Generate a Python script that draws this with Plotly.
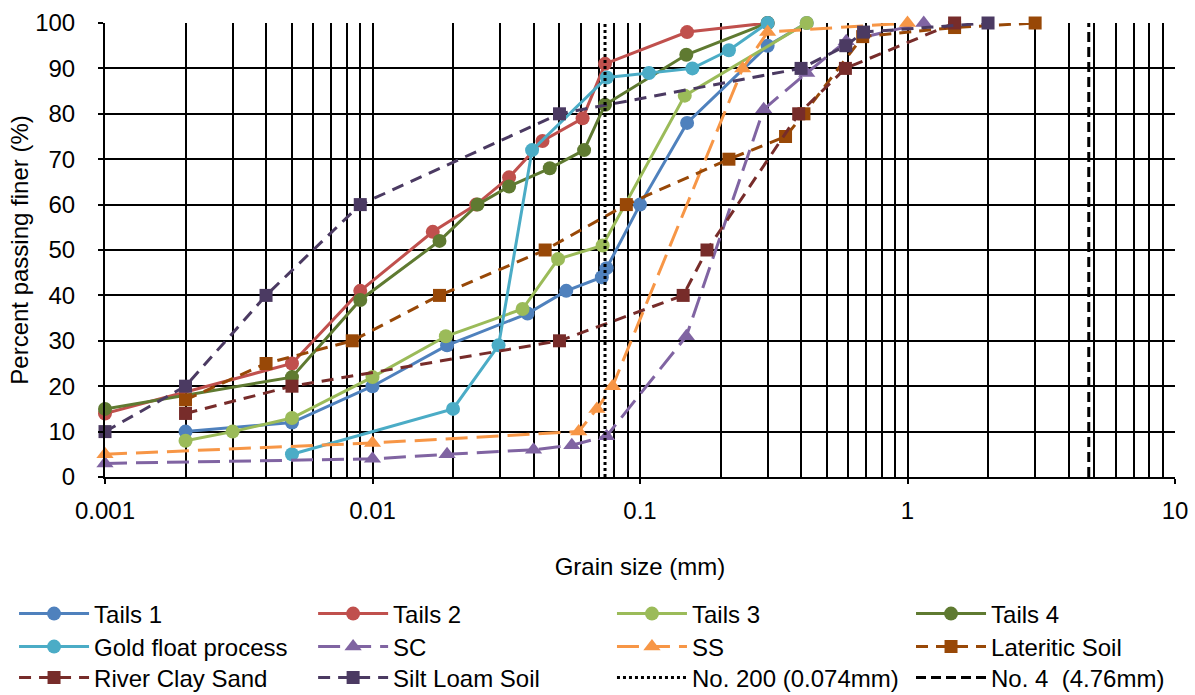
import plotly.graph_objects as go

# ---------------- data ----------------
tails1_x = [0.002, 0.005, 0.01, 0.019, 0.038, 0.053, 0.072, 0.075, 0.1, 0.15, 0.3, 0.42]
tails1_y = [10, 12, 20, 29, 36, 41, 44, 46, 60, 78, 95, 100]

tails2_x = [0.001, 0.005, 0.009, 0.0168, 0.0244, 0.0324, 0.0432, 0.061, 0.074, 0.15, 0.3]
tails2_y = [14, 25, 41, 54, 60, 66, 74, 79, 91, 98, 100]

tails3_x = [0.002, 0.003, 0.005, 0.01, 0.0188, 0.0364, 0.0494, 0.0725, 0.147, 0.42]
tails3_y = [8, 10, 13, 22, 31, 37, 48, 51, 84, 100]

tails4_x = [0.001, 0.005, 0.009, 0.0178, 0.0247, 0.0324, 0.046, 0.0618, 0.074, 0.149, 0.3]
tails4_y = [15, 22, 39, 52, 60, 64, 68, 72, 82, 93, 100]

gold_x = [0.005, 0.02, 0.0296, 0.0395, 0.0752, 0.108, 0.157, 0.215, 0.3]
gold_y = [5, 15, 29, 72, 88, 89, 90, 94, 100]

sc_x = [0.001, 0.01, 0.019, 0.04, 0.0556, 0.075, 0.149, 0.29, 0.42, 0.59, 1.15]
sc_y = [3, 4, 5, 6, 7, 9, 31, 81, 89, 96, 100]

ss_x = [0.001, 0.01, 0.059, 0.069, 0.079, 0.242, 0.3, 1.0]
ss_y = [5, 7.5, 10, 15, 20, 90, 98, 100]

lat_x = [0.002, 0.004, 0.0084, 0.0178, 0.0442, 0.0889, 0.215, 0.35, 0.41, 0.68, 1.5, 3.0]
lat_y = [17, 25, 30, 40, 50, 60, 70, 75, 80, 97, 99, 100]

river_x = [0.002, 0.005, 0.05, 0.145, 0.178, 0.392, 0.586, 1.5]
river_y = [14, 20, 30, 40, 50, 80, 90, 100]

silt_x = [0.001, 0.002, 0.004, 0.009, 0.05, 0.4, 0.588, 0.685, 2.0]
silt_y = [10, 20, 40, 60, 80, 90, 95, 98, 100]

no200_x = [0.074, 0.074]
no4_x = [4.76, 4.76]
sieve_y = [0, 100]

x_tickvals = [0.001, 0.01, 0.1, 1, 10]
x_ticktext = ["0.001", "0.01", "0.1", "1", "10"]

FONT = "Liberation Sans, Arial, sans-serif"
FS = 24

# legend grid (paper coords): column lefts and row centres
col_x = [-0.085, 0.1945, 0.4738, 0.7533]
row_y = [-0.3018, -0.3744, -0.4427]

fig = go.Figure()
legend_layout = {}
idx = [0]


def add(name, x, y, color, symbol, dash, col, row, msize=14, width=3):
    idx[0] += 1
    lname = "legend" if idx[0] == 1 else "legend%d" % idx[0]
    fig.add_trace(go.Scatter(
        x=x, y=y, name=name, mode="lines+markers" if symbol else "lines",
        line=dict(color=color, width=width, dash=dash),
        marker=dict(symbol=symbol or "circle", size=msize, color=color,
                    line=dict(width=0)),
        cliponaxis=False, legend=lname,
    ))
    legend_layout[lname] = dict(
        x=col_x[col], y=row_y[row], xanchor="left", yanchor="middle",
        orientation="v", font=dict(family=FONT, size=FS, color="#000000"),
        bgcolor="rgba(0,0,0,0)", itemwidth=70,
        itemclick=False, itemdoubleclick=False,
    )


add("Tails 1", tails1_x, tails1_y, "#4F81BD", "circle", "solid", 0, 0)
add("Tails 2", tails2_x, tails2_y, "#C0504D", "circle", "solid", 1, 0)
add("Tails 3", tails3_x, tails3_y, "#9BBB59", "circle", "solid", 2, 0)
add("Tails 4", tails4_x, tails4_y, "#5F7A31", "circle", "solid", 3, 0)
add("Gold float process", gold_x, gold_y, "#4BACC6", "circle", "solid", 0, 1)
add("SC", sc_x, sc_y, "#8064A2", "triangle-up", "22px,9px", 1, 1, msize=15)
add("SS", ss_x, ss_y, "#F79646", "triangle-up", "22px,9px", 2, 1, msize=15)
add("Lateritic Soil", lat_x, lat_y, "#984807", "square", "12px,8px", 3, 1, msize=13)
add("River Clay Sand", river_x, river_y, "#772C2A", "square", "12px,8px", 0, 2, msize=13)
add("Silt Loam Soil", silt_x, silt_y, "#4B3A62", "square", "12px,8px", 1, 2, msize=13)
add("No. 200 (0.074mm)", no200_x, sieve_y, "#000000", None, "3px,3px", 2, 2)
add("No. 4  (4.76mm)", no4_x, sieve_y, "#000000", None, "10px,5px", 3, 2)

minor_vals = [m * 10 ** e for e in range(-3, 1) for m in range(2, 10)]

fig.update_layout(
    width=1195, height=695,
    margin=dict(l=105, r=20, t=23, b=218, autoexpand=False),
    paper_bgcolor="white", plot_bgcolor="white",
    font=dict(family=FONT, size=FS, color="#000000"),
    showlegend=True,
    xaxis=dict(
        type="log", range=[-3, 1],
        tickmode="array", tickvals=x_tickvals, ticktext=x_ticktext,
        showgrid=True, gridcolor="#000000", gridwidth=2,
        minor=dict(tickmode="array", tickvals=minor_vals, showgrid=True,
                   gridcolor="#000000", gridwidth=2, ticks=""),
        showline=True, linecolor="#000000", linewidth=2, mirror=False,
        ticks="outside", ticklen=5, tickcolor="#000000", tickwidth=2,
        tickfont=dict(family=FONT, size=FS, color="#000000"),
        ticklabelstandoff=6,
        title=dict(text="Grain size (mm)", font=dict(family=FONT, size=FS),
                   standoff=35),
        zeroline=False,
    ),
    yaxis=dict(
        range=[0, 100], tickmode="linear", tick0=0, dtick=10,
        showgrid=True, gridcolor="#000000", gridwidth=2,
        showline=True, linecolor="#000000", linewidth=2,
        ticks="outside", ticklen=5, tickcolor="#000000", tickwidth=2,
        tickfont=dict(family=FONT, size=FS, color="#000000"),
        ticklabelstandoff=18,
        title=dict(text="Percent passing finer (%)", font=dict(family=FONT, size=FS),
                   standoff=0),
        zeroline=False,
    ),
    **legend_layout,
)

fig.write_html("out.html")
